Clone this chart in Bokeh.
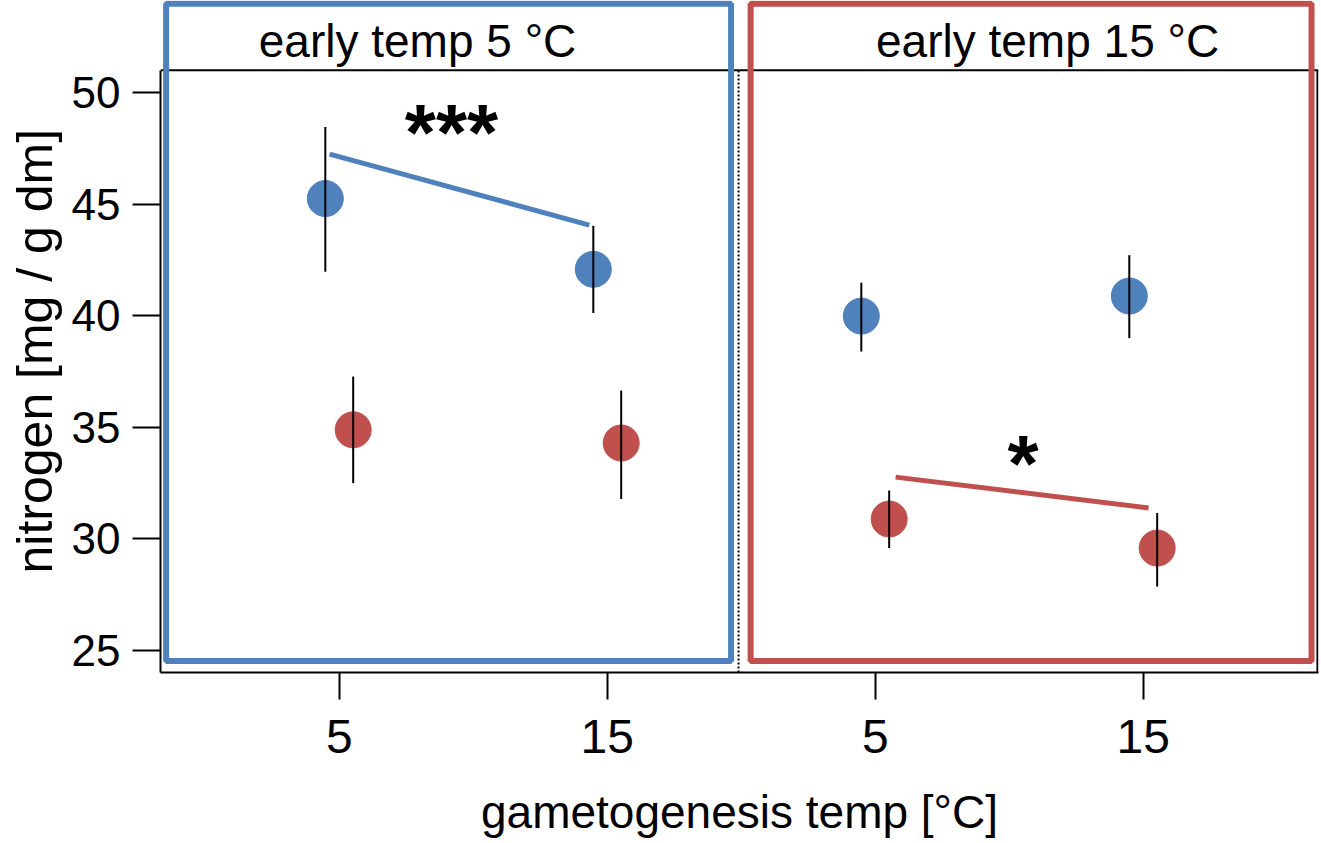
from bokeh.plotting import figure
from bokeh.models import (Range1d, LinearAxis, FixedTicker, Span, BoxAnnotation,
                          Label, Title, ColumnDataSource)
from bokeh.transform import dodge
from bokeh.embed import file_html
from bokeh.resources import INLINE

# ---------------- data ----------------
temps = [5, 15]                       # gametogenesis temp [°C]
panel_titles = ["early temp 5 °C", "early temp 15 °C"]
y_ticks = [25, 30, 35, 40, 45, 50]
x_title = "gametogenesis temp [°C]"
y_title = "nitrogen [mg / g dm]"

# panel 1 (early temp 5 °C)
p1_blue_mean = [45.25, 42.08]
p1_blue_lo = [41.97, 40.12]
p1_blue_hi = [48.46, 44.03]
p1_red_mean = [34.88, 34.29]
p1_red_lo = [32.49, 31.78]
p1_red_hi = [37.27, 36.64]

# panel 2 (early temp 15 °C)
p2_blue_mean = [39.98, 40.88]
p2_blue_lo = [38.39, 38.99]
p2_blue_hi = [41.48, 42.71]
p2_red_mean = [30.88, 29.58]
p2_red_lo = [29.58, 27.86]
p2_red_hi = [32.16, 31.15]

# significance brackets
p1_sig_x = [4.64, 14.33]
p1_sig_y = [47.24, 44.06]
p1_sig_text = "***"
p2_sig_x = [5.76, 15.2]
p2_sig_y = [32.76, 31.38]
p2_sig_text = "*"

# ---------------- layout constants ----------------
BLUE = "#4F81BD"
RED = "#C0504D"
FONT = "Liberation Sans"
SHIFT = 20            # panel 2 offset along the shared x scale
X_START, X_END = -1.67, 41.54
Y_START, Y_END = 24.0, 54.13
STRIP_Y = 51.0
SEP = 19.9
DODGE = 0.52

p = figure(width=1320, height=840,
           x_range=Range1d(X_START, X_END), y_range=Range1d(Y_START, Y_END),
           x_axis_location=None, y_axis_location=None,
           output_backend="svg", toolbar_location=None,
           min_border_left=160, min_border_right=2,
           min_border_top=0, min_border_bottom=167)
p.title.visible = False
p.outline_line_color = None
p.grid.visible = False
p.background_fill_color = "white"
p.border_fill_color = "white"
p.extra_x_ranges = {"p2": Range1d(X_START - SHIFT, X_END - SHIFT)}

# ---------------- axes ----------------
xticks = temps + [t + SHIFT for t in temps]
xaxis = LinearAxis(ticker=FixedTicker(ticks=xticks),
                   major_label_overrides={t + SHIFT: str(t) for t in temps},
                   axis_label=x_title)
xaxis.axis_line_width = 2
xaxis.major_tick_out = 27
xaxis.major_tick_in = 0
xaxis.major_tick_line_width = 2
xaxis.major_label_standoff = 20
xaxis.major_label_text_font = FONT
xaxis.major_label_text_font_size = "48px"
xaxis.major_label_text_color = "black"
xaxis.axis_label_text_font = FONT
xaxis.axis_label_text_font_size = "46px"
xaxis.axis_label_text_font_style = "normal"
xaxis.axis_label_text_color = "black"
xaxis.axis_label_standoff = 30
p.add_layout(xaxis, "below")

yaxis = LinearAxis(ticker=FixedTicker(ticks=y_ticks), bounds=(Y_START, STRIP_Y))
yaxis.axis_line_width = 2
yaxis.major_tick_out = 28
yaxis.major_tick_in = 0
yaxis.major_tick_line_width = 2
yaxis.major_label_standoff = 12
yaxis.major_label_text_font = FONT
yaxis.major_label_text_font_size = "44px"
yaxis.major_label_text_color = "black"
p.add_layout(yaxis, "left")

# y-axis title (rotated, outside the y axis)
p.add_layout(Title(text=y_title, align="left", offset=99, vertical_align="top",
                   standoff=8, text_font=FONT, text_font_size="50px",
                   text_font_style="normal", text_color="black"), "left")

# panel box: strip bottom line, right edge, separator
p.add_layout(Span(location=STRIP_Y, dimension="width", line_color="black", line_width=2))
p.segment(x0=[X_END - 0.04], y0=[Y_START], x1=[X_END - 0.04], y1=[STRIP_Y],
          line_color="black", line_width=2)
p.segment(x0=[SEP], y0=[Y_START], x1=[SEP], y1=[STRIP_Y],
          line_color="black", line_width=2, line_dash="2 2")

# ---------------- points & error bars ----------------
def draw(mean, lo, hi, color, offset, range_name):
    src = ColumnDataSource(dict(x=temps, mean=mean, lo=lo, hi=hi))
    kw = {} if range_name is None else {"x_range_name": range_name}
    xd = dodge("x", offset)
    p.scatter(x=xd, y="mean", size=36, fill_color=color, line_color=color,
              source=src, **kw)
    p.segment(x0=xd, y0="lo", x1=xd, y1="hi", line_color="black",
              line_width=2, source=src, **kw)

draw(p1_blue_mean, p1_blue_lo, p1_blue_hi, BLUE, -DODGE, None)
draw(p1_red_mean, p1_red_lo, p1_red_hi, RED, DODGE, None)
draw(p2_blue_mean, p2_blue_lo, p2_blue_hi, BLUE, -DODGE, "p2")
draw(p2_red_mean, p2_red_lo, p2_red_hi, RED, DODGE, "p2")

# significance lines and stars
p.line(x=p1_sig_x, y=p1_sig_y, line_color=BLUE, line_width=5)
p.line(x=p2_sig_x, y=p2_sig_y, line_color=RED, line_width=5, x_range_name="p2")
p.add_layout(Label(x=9.19, y=48.2, text=p1_sig_text, text_align="center",
                   text_baseline="alphabetic", text_font=FONT,
                   text_font_size="80px", text_font_style="bold", text_color="black"))
p.add_layout(Label(x=10.52, y=33.38, text=p2_sig_text, text_align="center",
                   text_baseline="alphabetic", text_font=FONT, x_range_name="p2",
                   text_font_size="80px", text_font_style="bold", text_color="black"))

# strip titles
p.add_layout(Label(x=7.92, y=52.32, text=panel_titles[0], text_align="center",
                   text_baseline="alphabetic", text_font=FONT,
                   text_font_size="46px", text_color="black"))
p.add_layout(Label(x=11.43, y=52.32, text=panel_titles[1], text_align="center",
                   text_baseline="alphabetic", text_font=FONT, x_range_name="p2",
                   text_font_size="46px", text_color="black"))

# coloured panel frames
p.add_layout(BoxAnnotation(left=-1.46, right=19.62, bottom=24.52, top=53.98,
                           fill_color=None, fill_alpha=0, line_color=BLUE,
                           line_alpha=1, line_width=6))
p.add_layout(BoxAnnotation(left=20.35, right=41.28, bottom=24.52, top=53.98,
                           fill_color=None, fill_alpha=0, line_color=RED,
                           line_alpha=1, line_width=6))

open("out.html", "w").write(file_html(p, INLINE))
